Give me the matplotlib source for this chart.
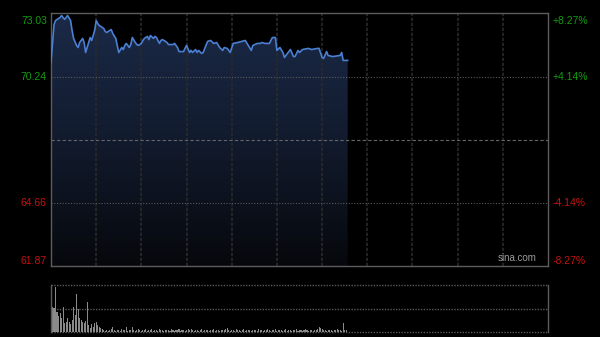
import matplotlib
matplotlib.use("Agg")
import matplotlib.pyplot as plt
import numpy as np
from matplotlib.colors import LinearSegmentedColormap

# intraday price: minutes since open (HK session, 330 trading minutes)
minutes = [0, 2, 3, 5, 6, 7, 9, 10, 11, 13, 14, 15, 17, 18, 19, 21, 22, 23, 25, 26,
           27, 29, 30, 31, 32, 33, 35, 36, 37, 39, 40, 41, 43, 44, 45, 47, 48, 49, 50, 52,
           53, 54, 56, 57, 58, 60, 61, 62, 64, 65, 66, 68, 69, 70, 72, 73, 74, 76, 77, 78,
           80, 81, 82, 84, 85, 86, 88, 89, 90, 92, 93, 94, 96, 97, 98, 100, 101, 104, 106, 108,
           110, 112, 114, 115, 117, 119, 121, 124, 129, 131, 133, 134, 137, 139, 140, 142, 145, 147, 149, 150,
           152, 154, 155, 157, 159, 161, 162, 164, 165, 167, 171, 173, 177, 178, 180, 181, 183, 184, 187, 192,
           193, 194, 197]
prices = [70.87, 72.54, 72.72, 72.81, 72.85, 72.94, 72.77, 72.85, 72.94, 72.72, 72.28, 71.93, 71.62, 71.53, 71.75, 71.93, 71.75, 71.31, 71.75, 71.97,
          71.84, 72.28, 72.72, 72.59, 72.50, 72.46, 72.37, 72.24, 72.19, 72.28, 72.32, 72.15, 71.93, 71.62, 71.31, 71.53, 71.44, 71.62, 71.71, 71.53,
          71.66, 71.97, 71.75, 71.66, 71.62, 71.71, 71.84, 71.93, 72.02, 71.88, 72.06, 71.93, 72.02, 71.97, 71.71, 71.84, 71.88, 71.80, 71.75, 71.66,
          71.66, 71.66, 71.71, 71.53, 71.35, 71.35, 71.35, 71.49, 71.62, 71.31, 71.40, 71.31, 71.44, 71.31, 71.40, 71.27, 71.31, 71.80, 71.84, 71.71,
          71.75, 71.53, 71.40, 71.53, 71.49, 71.31, 71.71, 71.75, 71.84, 71.62, 71.40, 71.62, 71.71, 71.71, 71.75, 71.71, 71.71, 71.97, 71.97, 71.40,
          71.53, 71.31, 71.09, 71.27, 71.44, 71.13, 71.13, 71.40, 71.31, 71.44, 71.49, 71.44, 71.49, 71.49, 71.09, 71.05, 71.35, 71.18, 71.13, 71.18,
          71.31, 70.96, 70.96]

prev_close = 67.45
price_ticks = [73.03, 70.24, 67.45, 64.66, 61.87]
pct_labels = ["+8.27%", "+4.14%", "", "-4.14%", "-8.27%"]

# volume per minute (relative scale, panel top = 100)
volumes = [52, 53, 52, 96, 43, 33, 41, 30, 53, 19, 22, 30, 22, 18, 26, 53, 36, 81, 49, 30,
           26, 22, 19, 24, 64, 15, 9, 17, 11, 19, 21, 15, 11, 9, 6,
           4, 3, 5, 3, 4, 6, 11, 4, 3, 5, 4, 3, 6, 4, 5, 11, 3, 4, 5, 11,
           4, 3, 5, 6, 4, 3, 4, 5, 7, 3, 4, 4, 6, 3, 5, 4, 3, 6, 4, 5,
           3, 4, 5, 4, 3, 6, 4, 3, 5, 4, 6, 3, 4, 5, 3, 4, 6, 5, 7, 4,
           3, 4, 5, 3, 4, 6, 3, 4, 5, 4, 3, 5, 4, 6, 3, 4, 5, 3, 4, 5,
           4, 6, 8, 4, 3, 5, 4, 3, 6, 4, 5, 3, 4, 6, 3, 4, 5, 4, 3, 4,
           5, 4, 3, 6, 4, 5, 3, 4, 5, 6, 4, 3, 5, 4, 6, 3, 4, 5, 4, 3,
           4, 6, 3, 5, 4, 3, 5, 4, 6, 3, 4, 5, 3, 4, 6, 4, 3, 5, 4, 3,
           4, 5, 6, 11, 9, 7, 4, 5, 3, 4, 5, 4, 3, 5, 4, 6, 5, 4, 3, 20,
           4, 5]

GREEN = '#129a12'
RED = '#c41212'
GRID = '#2a2a2a'

fig = plt.figure(figsize=(6, 3.37), dpi=100, facecolor='black')
ax = fig.add_axes([0.085, 0.2092, 0.8283, 0.7508], facecolor='black')
axv = fig.add_axes([0.085, 0.0148, 0.8283, 0.1395], facecolor='black')

ymin, ymax = price_ticks[-1], price_ticks[0]

# gradient fill under the line
poly = ax.fill_between(minutes, prices, ymin, color='none', lw=0)
cmap = LinearSegmentedColormap.from_list('fill', ['#06080c', '#121b2e', '#1b2a48'])
grad = np.linspace(0, 1, 256).reshape(-1, 1)
img = ax.imshow(grad, extent=[0, 330, ymin, ymax], origin='lower', aspect='auto',
                cmap=cmap, zorder=1)
img.set_clip_path(poly.get_paths()[0], transform=ax.transData)

ax.plot(minutes, prices, color='#4a7fd2', lw=1.2, zorder=3)

# grid
for m in range(30, 330, 30):
    ax.axvline(m, color=GRID, lw=1.2, ls=(0, (2, 1)), zorder=2)
for p in (70.24, 64.66):
    ax.axhline(p, color='#5a5a5a', lw=0.8, ls=(0, (1, 1.5)), zorder=2)
ax.axhline(prev_close, color='#666666', lw=0.8, ls=(0, (3, 2)), zorder=2)

ax.set_xlim(0, 330)
ax.set_ylim(ymin, ymax)
ax.set_xticks([])
ax.set_yticks([])
for s in ax.spines.values():
    s.set_color('#5c5c5c')
    s.set_linewidth(1)

# price / percent labels
for i, (p, lab) in enumerate(zip(price_ticks, pct_labels)):
    if p == prev_close:
        continue
    col = GREEN if p > prev_close else RED
    va = 'top' if i == 0 else ('bottom' if i == len(price_ticks) - 1 else 'center')
    off = -1.5 if i == 0 else (0.5 if i == len(price_ticks) - 1 else 0)
    ax.annotate(f"{p:.2f}", xy=(0, p), xycoords=('axes fraction', 'data'),
                xytext=(-3, off), textcoords='offset points', ha='right', va=va,
                color=col, fontsize=7.5, family='Liberation Sans')
    ax.annotate(lab, xy=(1, p), xycoords=('axes fraction', 'data'),
                xytext=(3.5, off), textcoords='offset points', ha='left', va=va,
                color=col, fontsize=7.5, family='Liberation Sans')

ax.text(0.938, 0.012, "sina.com", transform=ax.transAxes, ha='center', va='bottom',
        color='#9a9a9a', fontsize=7, family='Liberation Sans', zorder=4)

# volume panel
axv.bar(range(len(volumes)), volumes, width=0.7, color='#8a8a8a', align='center', zorder=2)
axv.set_xlim(0, 330)
axv.set_ylim(0, 100)
for v in (0, 50, 100):
    axv.axhline(v, color='#5a5a5a', lw=1, ls=(0, (1, 1)), zorder=1, clip_on=False)
axv.set_xticks([])
axv.set_yticks([])
axv.spines['top'].set_visible(False)
axv.spines['bottom'].set_visible(False)
for side in ('left', 'right'):
    axv.spines[side].set_color('#5c5c5c')
    axv.spines[side].set_linewidth(1)

fig.savefig('out.png', dpi=100, facecolor='black')
